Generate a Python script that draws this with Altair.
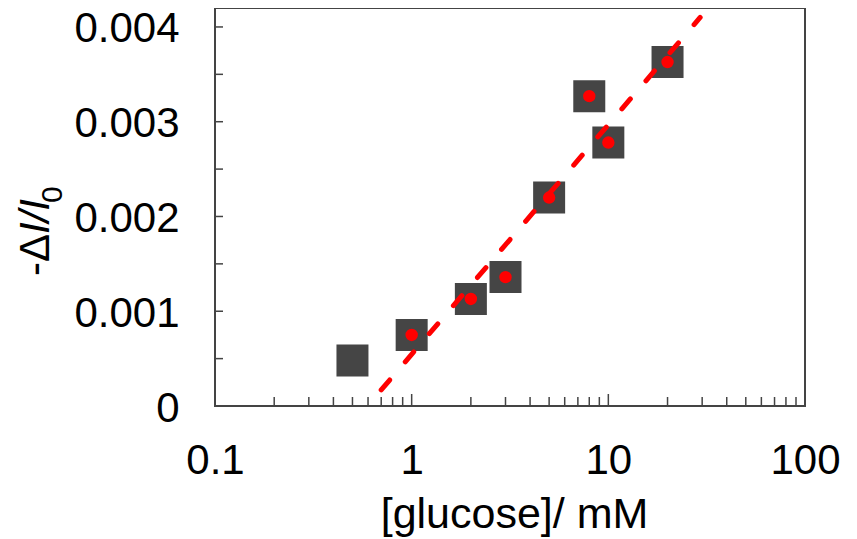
import altair as alt
import pandas as pd

# ---- data ----
conc = [0.5, 1, 2, 3, 5, 8, 10, 20]
resp = [0.00048, 0.00075, 0.00113, 0.00136, 0.00220, 0.00327, 0.00278, 0.00363]
dot_conc = [1, 2, 3, 5, 8, 10, 20]
dot_resp = [0.00075, 0.00113, 0.00136, 0.00220, 0.00327, 0.00278, 0.00363]
fit_conc = [0.7, 29.3]
fit_resp = [0.00017, 0.0041]
x_major = [0.1, 1, 10, 100]
x_minor = [0.2, 0.3, 0.4, 0.5, 0.6, 0.7, 0.8, 0.9,
           2, 3, 4, 5, 6, 7, 8, 9,
           20, 30, 40, 50, 60, 70, 80, 90]
y_ticks = [0, 0.0005, 0.001, 0.0015, 0.002, 0.0025, 0.003, 0.0035, 0.004]
y_labels = [0, 0.001, 0.002, 0.003, 0.004]
ytitle_a = ["-Δ"]
ytitle_b = ["I/I"]
ytitle_c = ["0"]

W, H = 590, 398
FONT = "Liberation Sans"
FRAME = "#444444"

xs = alt.Scale(type="log", domain=[0.1, 100], nice=False)
ys = alt.Scale(domain=[0, 0.0042], nice=False, zero=False)

x_axis = alt.Axis(
    values=x_major, format="~g", title="[glucose]/ mM",
    labelPadding=67, labelBaseline="alphabetic", labelFlush=False,
    labelOverlap=False, titleX=299, titleY=121,
    titleBaseline="alphabetic", titleAlign="center")
y_axis = alt.Axis(
    values=y_labels, format="~g", title="",
    labelPadding=36, labelBaseline="alphabetic", labelOffset=15,
    labelOverlap=False, labelFlush=False)


def xe(field):
    return alt.X(field, type="quantitative", scale=xs, axis=x_axis)


def ye(field):
    return alt.Y(field, type="quantitative", scale=ys, axis=y_axis)


squares = alt.Chart(pd.DataFrame({"c": conc, "r": resp})).mark_square(
    size=1024, color="#454545", opacity=1
).encode(x=xe("c"), y=ye("r"))

fit = alt.Chart(pd.DataFrame({"c": fit_conc, "r": fit_resp})).mark_line(
    color="#ff0000", strokeWidth=5, strokeDash=[13, 24], strokeCap="round"
).encode(x=xe("c"), y=ye("r"))

dots = alt.Chart(pd.DataFrame({"c": dot_conc, "r": dot_resp})).mark_circle(
    size=154, color="#ff0000", opacity=1
).encode(x=xe("c"), y=ye("r"))

xminor = alt.Chart(pd.DataFrame({"c": x_minor})).mark_rule(
    color=FRAME, strokeWidth=1.5
).encode(x=xe("c"), y=alt.value(H), y2=alt.value(H - 9))

xmajor = alt.Chart(pd.DataFrame({"c": x_major})).mark_rule(
    color=FRAME, strokeWidth=1.5
).encode(x=xe("c"), y=alt.value(H), y2=alt.value(H - 12))

yt = alt.Chart(pd.DataFrame({"r": y_ticks})).mark_rule(
    color=FRAME, strokeWidth=1.5
).encode(y=ye("r"), x=alt.value(0), x2=alt.value(8))

t1 = alt.Chart(pd.DataFrame({"t": ytitle_a})).mark_text(
    angle=270, align="left", baseline="alphabetic", font=FONT,
    fontSize=42, color="black"
).encode(text="t:N", x=alt.value(-166), y=alt.value(268))

t2 = alt.Chart(pd.DataFrame({"t": ytitle_b})).mark_text(
    angle=270, align="left", baseline="alphabetic", font=FONT,
    fontSize=42, fontStyle="italic", color="black"
).encode(text="t:N", x=alt.value(-166), y=alt.value(226))

t3 = alt.Chart(pd.DataFrame({"t": ytitle_c})).mark_text(
    angle=270, align="left", baseline="alphabetic", font=FONT,
    fontSize=30, color="black"
).encode(text="t:N", x=alt.value(-153), y=alt.value(195))

chart = alt.layer(yt, xminor, xmajor, squares, fit, dots, t1, t2, t3).properties(
    width=W, height=H,
    autosize=alt.AutoSizeParams(type="none"),
    padding={"left": 207, "top": 0, "right": 42, "bottom": 131},
    background="white",
).configure_view(
    stroke=FRAME, strokeWidth=2
).configure_axis(
    domain=False, ticks=False, grid=False,
    labelFont=FONT, labelFontSize=42, labelColor="black",
    titleFont=FONT, titleFontSize=43, titleColor="black",
    titleFontWeight="normal",
)

chart.save("out.html", embed_options={"renderer": "svg", "actions": False})
